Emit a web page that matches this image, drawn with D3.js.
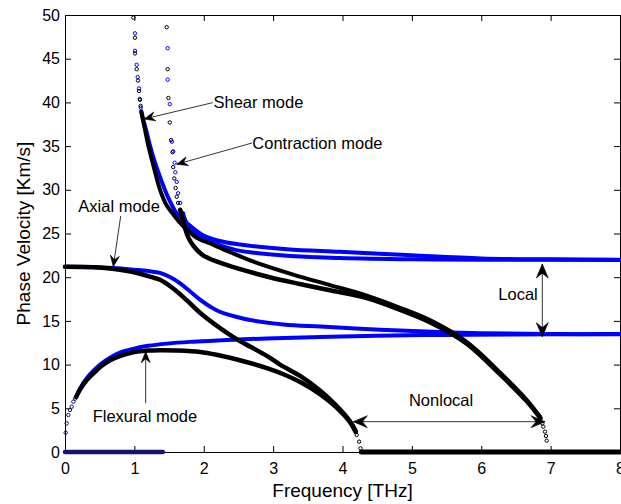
<!DOCTYPE html>
<html><head><meta charset="utf-8">
<script src="https://cdn.jsdelivr.net/npm/d3@7"></script>
<style>
body{margin:0;background:#fff;}
svg text{font-family:"Liberation Sans",Arial,Helvetica,sans-serif;fill:#000;}
</style>
</head><body>
<svg id="c" width="621" height="504"></svg>
<script>
// ---------- tick values ----------
const xTicks = [0,1,2,3,4,5,6,7,8];
const yTicks = [0,5,10,15,20,25,30,35,40,45,50];
const xLabel = "Frequency [THz]";
const yLabel = "Phase Velocity [Km/s]";

// ---------- local model (blue) : [frequency THz, phase velocity km/s] ----------
const flexLocal = [[0.16,6.3],[0.22,7.3],[0.3,8.3],[0.41,9.3],[0.52,10.1],[0.65,10.8],[0.8,11.4],[0.98,11.8],[1.2,12.15],[1.47,12.4],[1.8,12.6],[2.19,12.75],[2.91,13.0],[3.68,13.15],[4.5,13.3],[5.5,13.4],[6.5,13.45],[8,13.5]];
const axialLocal = [[0,21.2],[0.4,21.18],[0.7,21.05],[1.0,20.85],[1.2,20.7],[1.37,20.5],[1.52,20.0],[1.66,19.3],[1.8,18.4],[1.95,17.4],[2.1,16.6],[2.23,16.05],[2.45,15.5],[2.67,15.1],[3.15,14.6],[3.68,14.35],[4.54,14.0],[5.3,13.75],[6.0,13.6],[7,13.5],[8,13.47]];
const shearLocalSparse = [[1.009,47.9],[1.009,45.9],[1.033,44.3],[1.048,42.9],[1.067,41.6],[1.077,40.4],[1.091,39.4]];
const shearLocal = [[1.10,39.0],[1.13,38.0],[1.17,36.8],[1.22,35.2],[1.27,33.8],[1.35,31.9],[1.42,30.4],[1.5,28.9],[1.61,27.3],[1.7,26.6],[1.8,25.9],[1.99,24.8],[2.2,24.2],[2.47,23.8],[3.2,23.2],[3.96,22.9],[5,22.5],[6,22.15],[7,22.05],[8,22.0]];
const contrLocalSparse = [[1.48,46.2],[1.48,42.6],[1.51,39.8],[1.54,35.5],[1.56,34.4],[1.58,33.1],[1.59,32.0],[1.61,30.9],[1.63,29.6],[1.66,28.5],[1.70,27.3]];
const contrLocal = [[1.70,27.3],[1.73,26.6],[1.77,25.9],[1.85,25.2],[2.04,24.4],[2.25,23.6],[2.47,23.1],[3.2,22.45],[3.96,22.2],[5,22.05],[6,22.0],[8,21.97]];
const zeroLocal = [[0,0],[1.41,0]];

// ---------- nonlocal model (black) ----------
const flexStartSparse = [[0.010,2.21],[0.024,3.28],[0.048,4.23],[0.072,4.81],[0.096,5.18],[0.12,5.76],[0.145,6.1]];
const flexNonlocal = [[0.16,6.3],[0.22,7.2],[0.3,8.1],[0.41,9.0],[0.52,9.8],[0.65,10.5],[0.8,11.0],[0.98,11.4],[1.2,11.6],[1.37,11.65],[1.6,11.62],[1.95,11.45],[2.2,11.1],[2.52,10.5],[2.91,9.6],[3.15,8.9],[3.39,8.0],[3.68,6.6],[3.9,5.2],[4.1,3.5],[4.19,2.3]];
const axialNonlocal = [[0,21.2],[0.4,21.15],[0.65,21.0],[0.9,20.7],[1.08,20.4],[1.25,20.0],[1.37,19.7],[1.56,18.7],[1.75,17.4],[1.95,15.9],[2.23,14.2],[2.38,13.4],[2.52,12.7],[2.91,11.0],[3.1,10.0],[3.39,8.7],[3.68,7.0],[3.9,5.4],[4.1,3.6],[4.19,2.4]];
const lowEndSparse = [[4.205,1.95],[4.24,1.18],[4.26,0.42]];
const shearNonlocalSparse = [[0.985,49.7],[1.009,47.4],[1.009,45.6],[1.033,43.8],[1.052,42.5],[1.067,41.3],[1.081,40.3],[1.09,39.6]];
const shearNonlocal = [[1.10,38.9],[1.12,38.1],[1.15,37.0],[1.2,35.1],[1.27,32.9],[1.37,30.0],[1.46,28.3],[1.56,27.2],[1.65,26.3],[1.75,25.5],[1.9,24.5],[2.14,23.7],[2.4,22.8],[2.71,21.8],[3.29,20.3],[3.82,19.1],[4.35,17.9],[4.83,16.5],[5.31,14.9],[5.79,12.6],[6.27,9.1],[6.65,6.0],[6.85,4.0]];
const contrNonlocalSparse = [[1.466,48.6],[1.48,43.8],[1.49,40.5],[1.51,37.7],[1.53,35.7],[1.55,34.3],[1.56,32.6],[1.575,31.3],[1.595,30.2],[1.61,29.2],[1.63,28.5],[1.66,27.7]];
const contrNonlocal = [[1.66,27.7],[1.70,26.5],[1.73,25.6],[1.78,24.5],[1.85,23.6],[1.99,22.5],[2.33,21.4],[2.95,20.0],[3.4,19.2],[3.82,18.5],[4.35,17.6],[4.83,16.25],[5.31,14.65],[5.79,12.4],[6.27,8.9],[6.65,5.85],[6.85,3.9]];
const highEndSparse = [[6.857,3.82],[6.88,3.27],[6.894,2.9],[6.919,2.33],[6.933,1.83],[6.943,1.3]];
const zeroNonlocal = [[4.27,0],[8,0]];

// ---------- annotations (data coordinates) ----------
const modeLabels = [
  {text:"Shear mode",       at:[2.14,39.97], tail:[2.129,39.97], tip:[1.139,38.1]},
  {text:"Contraction mode", at:[2.70,35.35], tail:[2.695,35.35], tip:[1.61,32.92]},
  {text:"Axial mode",       at:[0.192,28.07], tail:[0.803,27.0], tip:[0.696,21.2]},
  {text:"Flexural mode",    at:[0.399,4.15], tail:[1.163,5.57], tip:[1.163,11.48]}
];
const rangeLabels = [
  {text:"Local",    at:[6.246,18.04], a:[6.88,21.5], b:[6.88,13.2]},
  {text:"Nonlocal", at:[4.958,5.87],  a:[4.156,3.47], b:[6.92,3.47]}
];

// ---------- drawing ----------
const svg = d3.select("#c");
const x = d3.scaleLinear().domain([0,8]).range([65,620]);
const y = d3.scaleLinear().domain([0,50]).range([452,15]);

const BLUE = "#0000ff", BLACK = "#000000", NAVY = "#14146e";

function styleAxis(g, labels){
  g.select(".domain").attr("stroke","#000").attr("stroke-width",1);
  g.selectAll(".tick line").attr("stroke","#000").attr("stroke-width",1);
  g.selectAll(".tick text").attr("font-size","16px").attr("fill","#000")
    .style("display", labels ? null : "none");
}
svg.append("g").attr("transform","translate(0,452)")
  .call(d3.axisBottom(x).tickValues(xTicks).tickSizeInner(-6).tickSizeOuter(0).tickPadding(11).tickFormat(d3.format("d")))
  .call(g=>styleAxis(g,true));
svg.append("g").attr("transform","translate(0,15)")
  .call(d3.axisTop(x).tickValues(xTicks).tickSizeInner(-6).tickSizeOuter(0))
  .call(g=>styleAxis(g,false));
svg.append("g").attr("transform","translate(65,0)")
  .call(d3.axisLeft(y).tickValues(yTicks).tickSizeInner(-6).tickSizeOuter(0).tickPadding(5).tickFormat(d3.format("d")))
  .call(g=>styleAxis(g,true));
svg.append("g").attr("transform","translate(620,0)")
  .call(d3.axisRight(y).tickValues(yTicks).tickSizeInner(-6).tickSizeOuter(0))
  .call(g=>styleAxis(g,false));

// axis titles
svg.append("text").attr("x",(x(0)+x(8))/2).attr("y",497).attr("text-anchor","middle")
  .attr("font-size","19px").text(xLabel);
svg.append("text").attr("transform",`translate(30,${(y(0)+y(50))/2}) rotate(-90)`)
  .attr("text-anchor","middle").attr("font-size","19px").text(yLabel);

const line = d3.line().x(d=>x(d[0])).y(d=>y(d[1])).curve(d3.curveCatmullRom.alpha(0.5));
const data = svg.append("g");
function band(pts,color,w){
  data.append("path").datum(pts).attr("d",line).attr("fill","none")
    .attr("stroke",color).attr("stroke-width",w).attr("stroke-linecap","round").attr("stroke-linejoin","round");
}
function dots(pts,color){
  data.append("g").selectAll("circle").data(pts).join("circle")
    .attr("cx",d=>x(d[0])).attr("cy",d=>y(d[1])).attr("r",1.7)
    .attr("fill","none").attr("stroke",color).attr("stroke-width",1);
}

// local (blue)
band(zeroLocal, NAVY, 4.5);
band(flexLocal, BLUE, 4);
band(axialLocal, BLUE, 4);
band(shearLocal, BLUE, 4);
band(contrLocal, BLUE, 4);
dots(contrLocalSparse, BLUE);
dots(shearLocalSparse, BLUE);
// nonlocal (black)
band(flexNonlocal, BLACK, 4.5);
band(axialNonlocal, BLACK, 4.5);
band(shearNonlocal, BLACK, 4);
band(contrNonlocal, BLACK, 4.5);
band(zeroNonlocal, BLACK, 5);
dots(flexStartSparse, NAVY);
dots(shearNonlocalSparse, BLACK);
dots(contrNonlocalSparse, BLACK);
dots(lowEndSparse, BLACK);
dots(highEndSparse, BLACK);

// annotations
const ann = svg.append("g");
function head(tip, from, L, W){
  const tx=x(tip[0]), ty=y(tip[1]), fx=x(from[0]), fy=y(from[1]);
  const ang = Math.atan2(ty-fy, tx-fx)*180/Math.PI;
  ann.append("path")
    .attr("d",`M0,0 L${-L},${-W/2} L${-0.65*L},0 L${-L},${W/2} Z`)
    .attr("transform",`translate(${tx},${ty}) rotate(${ang})`)
    .attr("fill","#000").attr("stroke","#000").attr("stroke-width",0.6).attr("stroke-linejoin","miter");
}
function seg(a,b){
  ann.append("line").attr("x1",x(a[0])).attr("y1",y(a[1])).attr("x2",x(b[0])).attr("y2",y(b[1]))
    .attr("stroke","#000").attr("stroke-width",0.8);
}
modeLabels.forEach(m=>{
  seg(m.tail,m.tip);
  head(m.tip,m.tail,11,9);
  ann.append("text").attr("x",x(m.at[0])).attr("y",y(m.at[1])).attr("dy","0.35em")
    .attr("font-size","16.5px").text(m.text);
});
rangeLabels.forEach(r=>{
  seg(r.a,r.b);
  head(r.a,r.b,14,12);
  head(r.b,r.a,14,12);
  ann.append("text").attr("x",x(r.at[0])).attr("y",y(r.at[1])).attr("dy","0.35em")
    .attr("font-size","16.5px").text(r.text);
});
</script>
</body></html>
